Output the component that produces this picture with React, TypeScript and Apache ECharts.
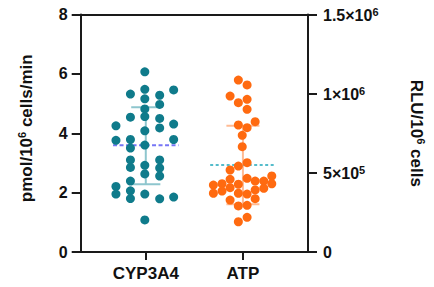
import React, { useEffect, useRef } from "react";
import * as echarts from "echarts";

const categories = ["CYP3A4", "ATP"];
const categoryPos = [1, 2];

// CYP3A4 (left axis, pmol/10^6 cells/min): jittered x position and value
const cypX = [0.99, 0.99, 0.842, 0.99, 1.143, 1.287, 1.143, 0.99, 0.842, 0.99, 1.143, 0.693, 1.287, 1.143, 0.99, 0.693, 0.842, 1.287, 0.99, 0.842, 0.842, 0.842, 0.99, 0.99, 1.143, 1.143, 1.143, 0.842, 0.693, 0.693, 0.842, 0.842, 0.99, 1.143, 1.287, 0.99];
const cypY = [6.07, 5.48, 5.32, 5.16, 5.28, 5.46, 4.97, 4.82, 4.54, 4.56, 4.5, 4.25, 4.31, 4.18, 4.08, 3.76, 3.79, 3.79, 3.6, 3.5, 3.1, 2.85, 2.92, 2.63, 3.1, 2.83, 2.56, 2.39, 2.21, 1.95, 2.06, 1.8, 1.95, 1.79, 1.85, 1.08];

// ATP (right axis, RLU/10^6 cells)
const atpX = [1.953, 2.043, 1.868, 1.953, 2.043, 2.043, 2.126, 1.953, 2.043, 1.993, 1.993, 1.953, 2.043, 1.868, 1.868, 2.043, 1.696, 1.785, 1.868, 1.953, 2.126, 2.215, 2.297, 1.696, 1.785, 1.953, 2.043, 2.126, 2.215, 2.297, 1.868, 1.953, 2.043, 2.126, 1.953, 2.043];
const atpY = [1086000, 1055000, 985000, 943000, 964000, 901000, 823000, 802000, 785000, 737000, 665000, 543000, 564000, 518000, 459000, 465000, 423000, 431000, 406000, 428000, 448000, 448000, 480000, 371000, 385000, 371000, 366000, 392000, 402000, 431000, 328000, 291000, 295000, 337000, 191000, 219000];

// summary values (mean, mean - SD, mean + SD)
const means = [3.6, 550000];
const sdLow = [2.28, 301000];
const sdHigh = [4.88, 798000];

const leftTicks = ["0", "2", "4", "6", "8"];
const rightTickLabels: Record<string, string> = {
  "0": "{a|0}",
  "500000": "{a|5×10}{s|5}",
  "1000000": "{a|1×10}{s|6}",
  "1500000": "{a|1.5×10}{s|6}",
};

const FONT = "'Liberation Sans', Arial, Helvetica, sans-serif";
const TEAL = "#0f7b8b";
const ORANGE = "#ff6a10";

export default function App() {
  const ref = useRef<HTMLDivElement>(null);
  useEffect(() => {
    if (!ref.current) return;
    const chart = echarts.init(ref.current, null, { renderer: "svg" });
    const meanHalf = 0.337;
    const capHalf = [0.15, 0.17];
    const barColors = ["#8ec6ce", "#ffbb94"];
    const meanColors = ["#7676f6", "#55bccb"];
    const meanDash: any = [[4, 2.5], [3, 2.5]];

    const mkRich = (big: number, small: number, raise: number) => ({
      a: { fontSize: big, fontWeight: "bold", fontFamily: FONT, color: "#111", verticalAlign: "bottom" },
      s: { fontSize: small, fontWeight: "bold", fontFamily: FONT, color: "#111", verticalAlign: "bottom", padding: [0, 0, raise, 0] },
    });
    const nameRich = mkRich(17, 11, 7);
    const tickRich = mkRich(16, 11, 6);

    const lineSeries: any[] = [];
    categoryPos.forEach((c, i) => {
      const yIdx = i;
      const common = { type: "line", symbol: "none", silent: true, yAxisIndex: yIdx, z: 1 };
      lineSeries.push({ ...common, data: [[c, sdLow[i]], [c, sdHigh[i]]], lineStyle: { color: barColors[i], width: 2 } });
      lineSeries.push({ ...common, data: [[c - capHalf[i], sdHigh[i]], [c + capHalf[i], sdHigh[i]]], lineStyle: { color: barColors[i], width: 2 } });
      lineSeries.push({ ...common, data: [[c - capHalf[i], sdLow[i]], [c + capHalf[i], sdLow[i]]], lineStyle: { color: barColors[i], width: 2 } });
      lineSeries.push({ ...common, data: [[c - meanHalf, means[i]], [c + meanHalf, means[i]]], lineStyle: { color: meanColors[i], width: 2, type: meanDash[i] } });
    });

    chart.setOption({
      animation: false,
      grid: { left: 80.7, right: 117.3, top: 14.5, bottom: 35 },
      xAxis: [
        {
          type: "value",
          min: 0.33,
          max: 2.67,
          splitLine: { show: false },
          axisLine: { show: true, onZero: false, lineStyle: { color: "#1a1a1a", width: 2 } },
          axisTick: { show: true, customValues: categoryPos, length: 8, lineStyle: { color: "#1a1a1a", width: 2 } },
          axisLabel: {
            customValues: categoryPos,
            margin: 13,
            formatter: (v: number) => categories[categoryPos.indexOf(Math.round(v))] ?? "",
            fontSize: 17,
            fontWeight: "bold",
            fontFamily: FONT,
            color: "#111",
          },
        },
        {
          type: "value",
          position: "top",
          min: 0.33,
          max: 2.67,
          splitLine: { show: false },
          axisLine: { show: true, onZero: false, lineStyle: { color: "#1a1a1a", width: 2 } },
          axisTick: { show: false },
          axisLabel: { show: false },
        },
      ],
      yAxis: [
        {
          type: "value",
          min: 0,
          max: 8,
          interval: 2,
          splitLine: { show: false },
          axisLine: { show: true, onZero: false, lineStyle: { color: "#1a1a1a", width: 2 } },
          axisTick: { show: true, length: 9, lineStyle: { color: "#1a1a1a", width: 2 } },
          axisLabel: {
            margin: 13,
            formatter: (v: number) => leftTicks[leftTicks.indexOf(String(v))] ?? "",
            fontSize: 16,
            fontWeight: "bold",
            fontFamily: FONT,
            color: "#111",
          },
          name: "{a|pmol/10}{s|6}{a| cells/min}",
          nameLocation: "middle",
          nameRotate: 90,
          nameGap: 46,
          nameTextStyle: { rich: nameRich, padding: [0, 0, 0, 10] },
        },
        {
          type: "value",
          position: "right",
          min: 0,
          max: 1500000,
          interval: 500000,
          splitLine: { show: false },
          axisLine: { show: true, onZero: false, lineStyle: { color: "#1a1a1a", width: 2 } },
          axisTick: { show: true, length: 9, lineStyle: { color: "#1a1a1a", width: 2 } },
          axisLabel: {
            margin: 15,
            formatter: (v: number) => rightTickLabels[String(v)] ?? "",
            rich: tickRich,
          },
          name: "{a|RLU/10}{s|6}{a| cells}",
          nameLocation: "middle",
          nameRotate: -90,
          nameGap: 100,
          nameTextStyle: { rich: nameRich },
        },
      ],
      series: [
        ...lineSeries,
        {
          type: "scatter",
          yAxisIndex: 0,
          symbolSize: 9,
          z: 3,
          itemStyle: { color: TEAL, opacity: 1 },
          data: cypX.map((x, i) => [x, cypY[i]]),
        },
        {
          type: "scatter",
          yAxisIndex: 1,
          symbolSize: 9,
          z: 3,
          itemStyle: { color: ORANGE, opacity: 1 },
          data: atpX.map((x, i) => [x, atpY[i]]),
        },
      ],
    });
    return () => chart.dispose();
  }, []);
  return <div ref={ref} style={{ position: "absolute", left: 0, top: 0, width: 434, height: 287 }} />;
}
